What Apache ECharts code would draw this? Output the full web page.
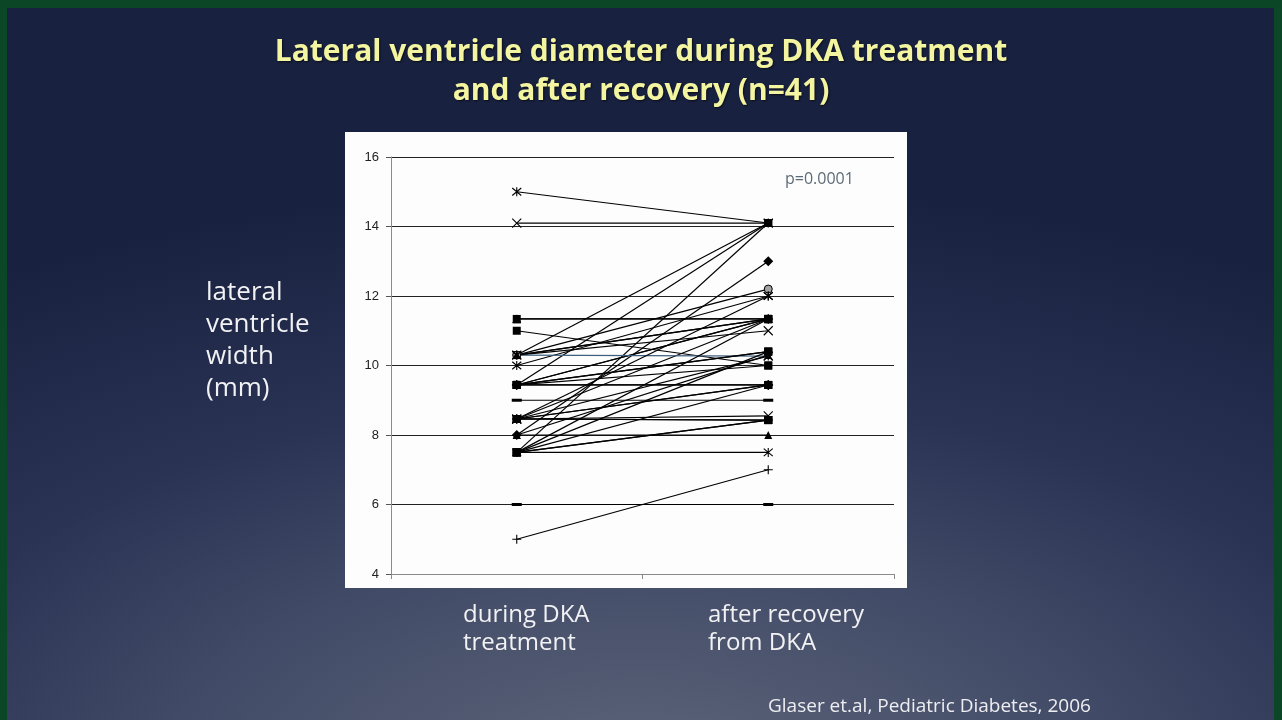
<!DOCTYPE html>
<html>
<head>
<meta charset="utf-8">
<script src="https://cdn.jsdelivr.net/npm/echarts@6/dist/echarts.min.js"></script>
<style>
  html, body { margin: 0; padding: 0; }
  body { width: 1282px; height: 720px; overflow: hidden; position: relative; }
  #chart {
    position: absolute; left: 0; top: 0; width: 1282px; height: 720px;
    background: radial-gradient(ellipse 95% 85% at 50% 110%, #5f667b 0%, #454e69 35%, #2a3354 65%, #18213f 100%);
  }
  #frame {
    position: absolute; left: 0; top: 0; width: 1282px; height: 720px; box-sizing: border-box;
    border-top: 8px solid #0b4626; border-left: 7px solid #0b4626; border-right: 8px solid #0b4626;
    pointer-events: none;
  }
</style>
</head>
<body>
<div id="chart"></div>
<div id="frame"></div>
<script>
// categories on the x axis
const categories = ['during DKA\ntreatment', 'after recovery\nfrom DKA'];

// lateral ventricle width (mm), one pair per patient (n=41)
const duringDKA = [
  15.0, 14.1, 10.3, 9.44, 7.5, 8.0, 10.3, 10.0, 11.34, 11.34,
  10.3, 9.44, 9.44, 8.46, 10.3, 11.0, 10.3, 9.44, 7.5, 8.46,
  9.44, 9.44, 8.46, 8.46, 7.5, 9.0, 8.46, 8.46, 8.46, 7.5,
  7.5, 8.0, 7.5, 5.0, 6.0, 9.44, 10.3, 8.0, 7.5, 8.46, 9.44
];
const afterRecovery = [
  14.1, 14.1, 14.1, 14.1, 14.1, 13.0, 12.2, 12.0, 11.34, 11.34,
  11.34, 11.34, 11.34, 11.34, 11.0, 10.0, 10.27, 10.4, 10.4, 10.27,
  9.44, 9.44, 9.44, 9.44, 9.44, 9.0, 8.55, 8.43, 8.43, 8.43,
  8.43, 8.0, 7.5, 7.0, 6.0, 10.0, 11.34, 10.3, 11.34, 12.0, 10.4
];

// y axis range
const yMin = 4, yMax = 16, yStep = 2;

const pValue = 'p=0.0001';
const yTitle = 'lateral\nventricle\nwidth\n(mm)';
const source = 'Glaser et.al, Pediatric Diabetes, 2006';

// marker shapes (Excel-like)
const X_MARK = 'path://M0,0L10,10M10,0L0,10';
const STAR_MARK = 'path://M0,0L10,10M10,0L0,10M5,-1L5,11';
const PLUS_MARK = 'path://M5,0L5,10M0,5L10,5';
const DASH_MARK = 'rect';
const markers = [
  STAR_MARK, X_MARK, 'rect', 'rect', 'none', 'diamond', 'circle', STAR_MARK, 'triangle', 'rect',
  'triangle', 'rect', 'diamond', 'rect', X_MARK, 'rect', STAR_MARK, 'rect', 'rect', X_MARK,
  'diamond', 'rect', 'diamond', 'rect', 'rect', DASH_MARK, X_MARK, 'rect', 'rect', 'rect',
  'rect', 'triangle', STAR_MARK, PLUS_MARK, DASH_MARK, 'rect', 'triangle', 'triangle', 'rect', STAR_MARK, 'rect'
];

const chart = echarts.init(document.getElementById('chart'));

const series = duringDKA.map((v, i) => {
  const m = markers[i];
  const stroked = (m === X_MARK || m === STAR_MARK || m === PLUS_MARK);
  const dash = (i === 25 || i === 34);
  let fill = '#000';
  if (i === 8) fill = '#7d5e63';
  if (i === 6) fill = '#a4a4a4';
  let size = stroked ? 9 : 8;
  if (m === 'diamond') size = 10;
  if (dash) size = [10, 3];
  return {
    type: 'line',
    data: [v, afterRecovery[i]],
    symbol: m,
    symbolSize: size,
    lineStyle: { color: i === 16 ? '#3f5f7f' : '#000', width: 1.2 },
    itemStyle: {
      color: stroked ? 'rgba(0,0,0,0)' : fill,
      borderColor: '#000',
      borderWidth: stroked ? 1.1 : (fill === '#000' ? 0 : 1)
    },
    emphasis: { disabled: true },
    animation: false,
    z: 3
  };
});

const option = {
  animation: false,
  title: {
    text: 'Lateral ventricle diameter during DKA treatment\nand after recovery (n=41)',
    left: 'center',
    top: 28,
    textStyle: {
      color: '#f3f5a0',
      fontFamily: 'Open Sans',
      fontWeight: 'bold',
      fontSize: 30,
      lineHeight: 39,
      textShadowColor: 'rgba(0,0,0,0.6)',
      textShadowBlur: 2,
      textShadowOffsetX: 1,
      textShadowOffsetY: 1
    }
  },
  grid: { left: 391, right: 388, top: 157, bottom: 146 },
  xAxis: {
    type: 'category',
    data: categories,
    boundaryGap: true,
    axisLine: { lineStyle: { color: '#8a8a8a', width: 1 } },
    axisTick: { show: true, length: 5, lineStyle: { color: '#8a8a8a' } },
    axisLabel: { show: false },
    splitLine: { show: false }
  },
  yAxis: {
    type: 'value',
    min: yMin,
    max: yMax,
    interval: yStep,
    axisLine: { show: true, lineStyle: { color: '#8a8a8a', width: 1 } },
    axisTick: { show: true, length: 5, lineStyle: { color: '#555' } },
    axisLabel: { color: '#222', fontFamily: 'Liberation Sans', fontSize: 13, margin: 12 },
    splitLine: { show: true, lineStyle: { color: '#222', width: 1 } }
  },
  graphic: [
    {
      type: 'rect', z: -10, silent: true,
      shape: { x: 345, y: 132, width: 562, height: 456 },
      style: { fill: '#fdfdfd' }
    },
    {
      type: 'text', silent: true, z: 10,
      style: { text: pValue, x: 785, y: 171, font: '16px "Open Sans"', fill: '#5d6b78' }
    },
    {
      type: 'text', silent: true,
      style: { text: yTitle, x: 206, y: 277, font: '26px "Open Sans"', fill: '#f2f2f5', lineHeight: 32 }
    },
    {
      type: 'text', silent: true,
      style: { text: categories[0], x: 463, y: 601, font: '24px "Open Sans"', fill: '#f2f2f5', lineHeight: 28 }
    },
    {
      type: 'text', silent: true,
      style: { text: categories[1], x: 708, y: 601, font: '24px "Open Sans"', fill: '#f2f2f5', lineHeight: 28 }
    },
    {
      type: 'text', silent: true,
      style: { text: source, x: 768, y: 697, font: '19px "Open Sans"', fill: '#eeeef2' }
    }
  ],
  series: series
};

chart.setOption(option);
</script>
</body>
</html>
